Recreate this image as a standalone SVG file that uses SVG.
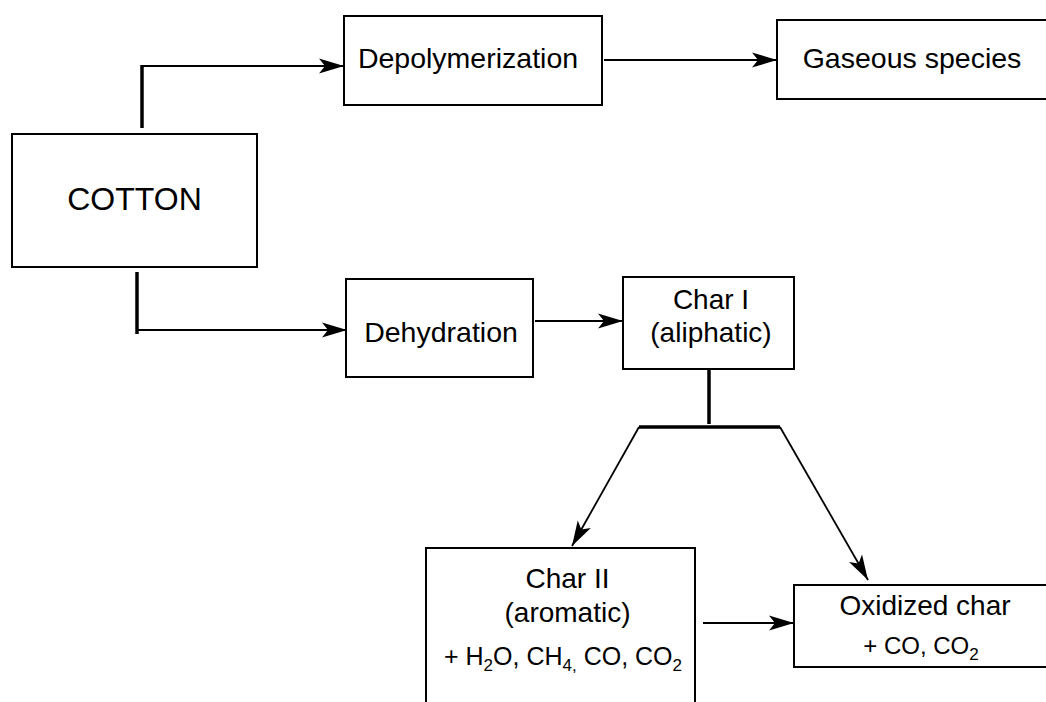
<svg xmlns="http://www.w3.org/2000/svg" width="1046" height="702" viewBox="0 0 1046 702">
<style>
  .box { fill: #ffffff; stroke: #000000; stroke-width: 2; }
  .t { font-family: "Liberation Sans", Arial, sans-serif; fill: #000000; text-anchor: middle; }
  .ln { fill: none; stroke: #000000; stroke-width: 1.8; }
  .thick { fill: none; stroke: #000000; stroke-width: 3.5; }
  .sub { font-size: 17px; }
</style>
<defs>
  <marker id="arr" markerUnits="userSpaceOnUse" markerWidth="27" markerHeight="16" refX="25" refY="7.5" orient="auto" overflow="visible">
    <path d="M0,0 L25,7.5 L0,15 L6,7.5 z" fill="#000000"/>
  </marker>
</defs>
<rect width="1046" height="702" fill="#ffffff"/>

<g id="connectors">
  <line class="thick" x1="142" y1="128" x2="142" y2="65"/>
  <line class="ln" x1="141" y1="66" x2="344" y2="66" marker-end="url(#arr)"/>
  <line class="thick" x1="137" y1="272" x2="137" y2="334"/>
  <line class="ln" x1="137" y1="330" x2="347" y2="330" marker-end="url(#arr)"/>
  <line class="ln" x1="604" y1="60" x2="777" y2="60" marker-end="url(#arr)"/>
  <line class="ln" x1="535" y1="321" x2="623" y2="321" marker-end="url(#arr)"/>
  <line class="thick" x1="709" y1="367" x2="709" y2="424"/>
  <line class="thick" x1="639" y1="427" x2="780" y2="427"/>
  <line class="ln" x1="639" y1="427" x2="572" y2="546" marker-end="url(#arr)"/>
  <line class="ln" x1="780" y1="427" x2="868" y2="580" marker-end="url(#arr)"/>
  <line class="ln" x1="703" y1="623" x2="794" y2="623" marker-end="url(#arr)"/>
</g>

<g id="cotton">
  <rect class="box" x="12" y="134" width="245" height="133"/>
  <text class="t" x="134.5" y="210" font-size="32">COTTON</text>
</g>

<g id="depolymerization">
  <rect class="box" x="344" y="16" width="258" height="89"/>
  <text class="t" x="468" y="68" font-size="28.5">Depolymerization</text>
</g>

<g id="gaseous">
  <rect class="box" x="777" y="20" width="290" height="79"/>
  <text class="t" x="912" y="68" font-size="28.5">Gaseous species</text>
</g>

<g id="dehydration">
  <rect class="box" x="346" y="279" width="187" height="98"/>
  <text class="t" x="441" y="342" font-size="28.5">Dehydration</text>
</g>

<g id="char1">
  <rect class="box" x="623" y="277" width="171" height="92"/>
  <text class="t" x="711" y="309" font-size="28">Char I</text>
  <text class="t" x="711" y="342" font-size="28">(aliphatic)</text>
</g>

<g id="char2">
  <rect class="box" x="426" y="548" width="269" height="170"/>
  <text class="t" x="567.5" y="588" font-size="28">Char II</text>
  <text class="t" x="567.5" y="622" font-size="28">(aromatic)</text>
  <text class="t" x="563" y="665" font-size="25">+ H<tspan class="sub" dy="6">2</tspan><tspan dy="-6">O, CH</tspan><tspan class="sub" dy="6">4,</tspan><tspan dy="-6"> CO, CO</tspan><tspan class="sub" dy="6">2</tspan></text>
</g>

<g id="oxidized">
  <rect class="box" x="794" y="585" width="280" height="82"/>
  <text class="t" x="925" y="615" font-size="28">Oxidized char</text>
  <text class="t" x="921" y="654" font-size="24">+ CO, CO<tspan class="sub" dy="6">2</tspan></text>
</g>
</svg>
